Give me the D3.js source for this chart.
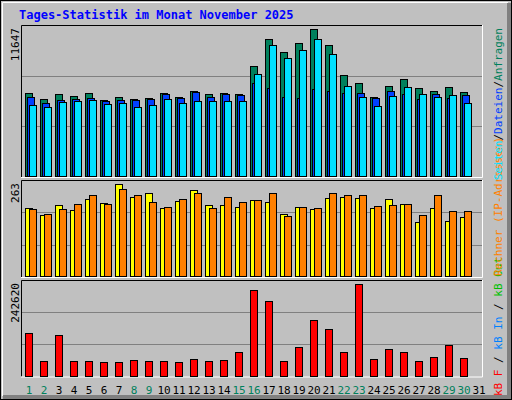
<!DOCTYPE html>
<html><head><meta charset="utf-8">
<script src="https://cdn.jsdelivr.net/npm/d3@7"></script>
<style>body{margin:0;background:#fff}</style></head>
<body><svg id="c" width="512" height="400"></svg>
<script>
const days = d3.range(1,32);
const weekend = [1,2,8,9,15,16,22,23,29,30];
const hits  = [6400,5939,6323,6170,6400,5862,6093,5939,6016,6400,6093,6554,6323,6400,6323,8474,10547,9549,10240,11315,10086,7782,7168,6093,6938,7475,6784,6554,6861,6477];
const files = [6093,5632,5862,5939,6016,5786,5862,5862,5939,6323,6016,6477,6093,6323,6246,7168,6784,6093,6016,6707,6554,6400,6400,6016,6554,6323,5939,6323,6016,6246];
const pages = [5478,5325,5709,5786,5862,5555,5632,5325,5478,5939,5632,5786,5786,5786,5786,7859,10086,9088,9702,10547,9395,6938,6093,5402,6170,6861,6323,6093,6246,5632];
const visits= [186,167,194,180,210,200,251,216,227,186,205,235,194,194,189,208,202,170,189,183,213,216,213,186,210,197,148,186,151,161];
const sites = [183,170,183,197,221,197,238,221,202,189,210,227,186,216,202,208,227,164,189,186,227,221,221,191,194,197,167,221,178,178];
const kbytes= [107700,39000,102600,39000,39000,36500,36500,41600,39000,39000,36500,44100,39000,41600,61900,217100,189100,39000,72100,140800,117900,59400,232400,44100,69500,59400,39000,49200,77200,46600];
const maxLabels = ["11647","263","242620"];

const svg = d3.select("#c");
const mono = "'DejaVu Sans Mono', monospace";
// background + border
svg.append("rect").attr("x",0).attr("y",0).attr("width",512).attr("height",400).attr("fill","#c0c0c0");
svg.append("path").attr("d","M509,3V397H3").attr("stroke","#808080").attr("stroke-width",4).attr("fill","none");
svg.append("rect").attr("x",0.5).attr("y",0.5).attr("width",511).attr("height",399).attr("fill","none").attr("stroke","#000");
svg.append("path").attr("d","M2.5,396V2.5H508").attr("stroke","#fff").attr("fill","none");

svg.append("text").attr("x",19).attr("y",19).attr("font-family",mono).attr("font-weight","bold")
  .attr("font-size",12).attr("fill","#0000ff").text("Tages-Statistik im Monat November 2025");

const x = d3.scaleBand().domain(days).range([21,486]).paddingInner(0).paddingOuter(0);
const step = 15, x0 = d => 21 + (d-1)*step;

const panels = [
  {top:25, bot:177, max:11647},
  {top:180, bot:277, max:263},
  {top:280, bot:376.5, max:242620}
];
panels.forEach((p,i)=>{
  svg.append("path").attr("d",`M21.5,${p.bot}V${p.top+0.5}H482`).attr("stroke","#000").attr("fill","none");
  svg.append("path").attr("d",`M482.5,${p.top}V${p.bot+0.5}H21`).attr("stroke","#fff").attr("fill","none");
  const h = p.bot-p.top;
  [1,2].forEach(k=>svg.append("line").attr("x1",22).attr("x2",482).attr("y1",Math.round(p.top+h*k/3)+0.5)
    .attr("y2",Math.round(p.top+h*k/3)+0.5).attr("stroke","#808080"));
  p.y = d3.scaleLinear().domain([0,p.max]).range([p.bot-0.5,p.top]);
  svg.append("text").attr("transform",`translate(19,${p.top+3}) rotate(-90)`).attr("text-anchor","end")
    .attr("font-family",mono).attr("font-size",11).attr("fill","#000").text(maxLabels[i]);
});

function bars(data, p, off, w, color){
  svg.append("g").selectAll("rect").data(data).join("rect")
   .attr("x",(d,i)=>x(i+1)+off+0.5).attr("y",d=>Math.round(p.y(d))+0.5)
   .attr("width",w).attr("height",d=>Math.round(p.y(0)-p.y(d)))
   .attr("fill",color).attr("stroke","#000");
}
bars(hits, panels[0], 4, 7, "#00805c");
bars(files, panels[0], 6, 7, "#0040ff");
bars(pages, panels[0], 8, 7, "#00e0ff");
bars(visits, panels[1], 4, 7, "#ffff00");
bars(sites, panels[1], 8, 7, "#ff8000");
bars(kbytes, panels[2], 4, 7, "#ff0000");

svg.append("g").selectAll("text").data(days).join("text")
  .attr("x",d=>x(d)+step/2+0.5).attr("y",394).attr("text-anchor","middle")
  .attr("font-family",mono).attr("font-size",11)
  .attr("fill",d=>weekend.includes(d)?"#00805c":"#000").text(d=>d);

function legend(yStart, anchor, parts){
  const t = svg.append("text").attr("transform",`translate(502,${yStart}) rotate(-90)`)
    .attr("text-anchor",anchor).attr("font-family",mono).attr("font-size",11);
  parts.forEach(([s,c])=>t.append("tspan").attr("fill",c).text(s));
}
legend(396,"start",[["kB F","#ff0000"],[" / ","#000"],["kB In","#0080ff"],[" / ","#000"],["kB Out","#00c000"]]);
legend(276,"start",[["Rechner (IP-Adressen)","#ff8000"]]);
legend(28,"end",[["Seiten","#00e0ff"],["/","#000"],["Dateien","#0040ff"],["/","#000"],["Anfragen","#00805c"]]);
</script></body></html>
